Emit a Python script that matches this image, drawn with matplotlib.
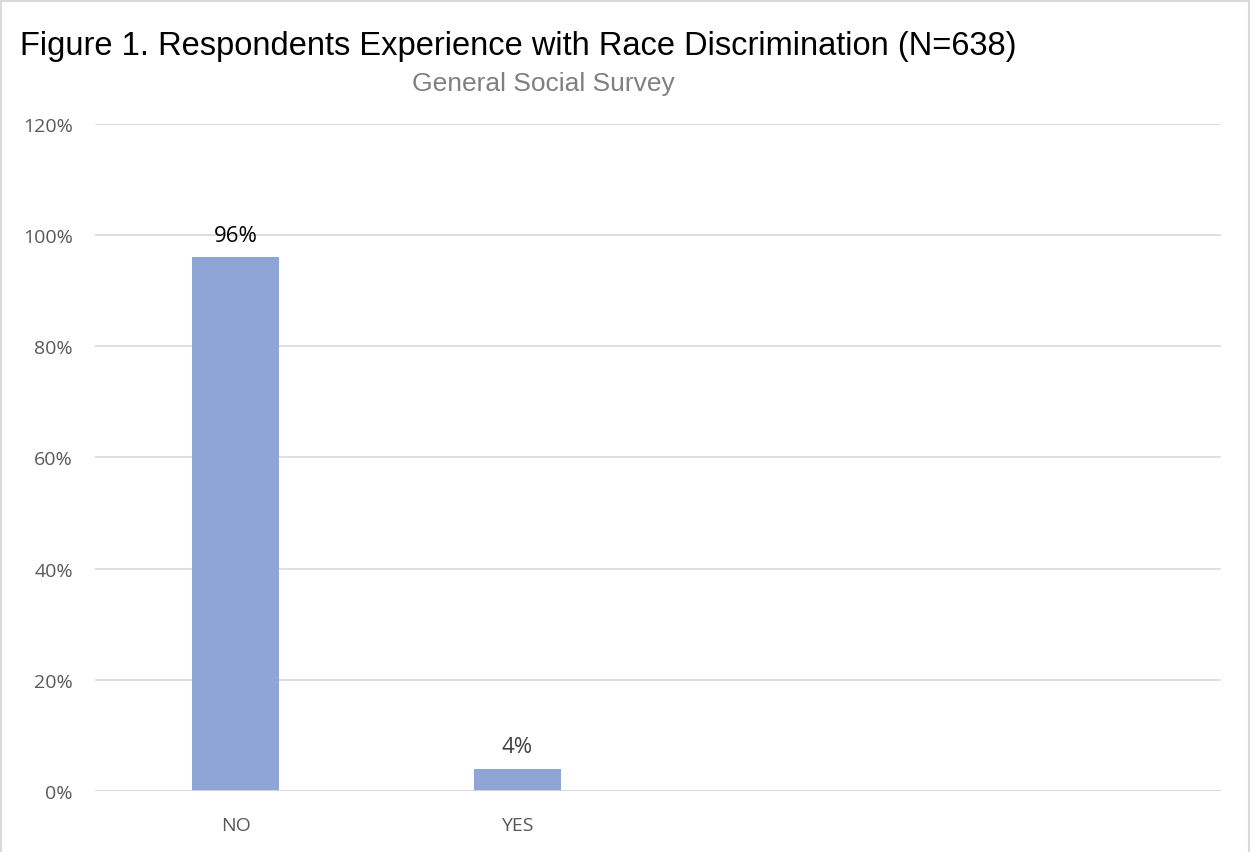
import matplotlib
matplotlib.use("Agg")
import matplotlib.pyplot as plt
from matplotlib.patches import Rectangle

categories = ["NO", "YES", "", ""]
values = [0.96, 0.04, None, None]
labels = ["96%", "4%"]
yticks = [0, 0.2, 0.4, 0.6, 0.8, 1.0, 1.2]
ytick_labels = ["0%", "20%", "40%", "60%", "80%", "100%", "120%"]

fig = plt.figure(figsize=(12.5, 8.53), dpi=100)
ax = fig.add_axes([0.076, 0.0715, 0.901, 0.782])

xs = list(range(len(categories)))
bar_x = [x for x, v in zip(xs, values) if v is not None]
bar_v = [v for v in values if v is not None]
ax.bar(bar_x, bar_v, width=0.31, color="#8FA5D5", zorder=3)

label_colors = ["#000000", "#404040"]
for x, v, lab, c in zip(bar_x, bar_v, labels, label_colors):
    ax.annotate(lab, (x, v), xytext=(0, 8.5), textcoords="offset points",
                ha="center", va="bottom", fontsize=16, color=c,
                family=["Open Sans", "DejaVu Sans"])

ax.set_xlim(-0.5, len(categories) - 0.5)
ax.set_ylim(0, 1.2)
ax.set_yticks(yticks)
ax.set_yticklabels(ytick_labels)
ax.set_xticks(xs)
ax.set_xticklabels(categories)
ax.grid(axis="y", color="#D9D9D9", linewidth=1.2, zorder=0)
ax.axhline(0, color="#D9D9D9", linewidth=2, zorder=4)
for s in ax.spines.values():
    s.set_visible(False)
ax.tick_params(axis="both", length=0, labelsize=14, labelcolor="#595959")
ax.tick_params(axis="y", pad=16)
ax.tick_params(axis="x", pad=18)
for t in ax.get_xticklabels() + ax.get_yticklabels():
    t.set_family(["Open Sans", "DejaVu Sans"])

fig.text(0.016, 0.945, "Figure 1. Respondents Experience with Race Discrimination (N=638)",
         fontsize=23.5, family=["Liberation Sans", "DejaVu Sans"], color="#000000",
         ha="left", va="center")
fig.text(0.435, 0.902, "General Social Survey", fontsize=19,
         family=["Liberation Sans", "DejaVu Sans"], color="#808080",
         ha="center", va="center")

fig.patches.append(Rectangle((0.0008, -0.01), 0.9984, 1.008, transform=fig.transFigure,
                             fill=False, edgecolor="#D9D9D9", linewidth=1.5))

fig.savefig("out.png", dpi=100)
